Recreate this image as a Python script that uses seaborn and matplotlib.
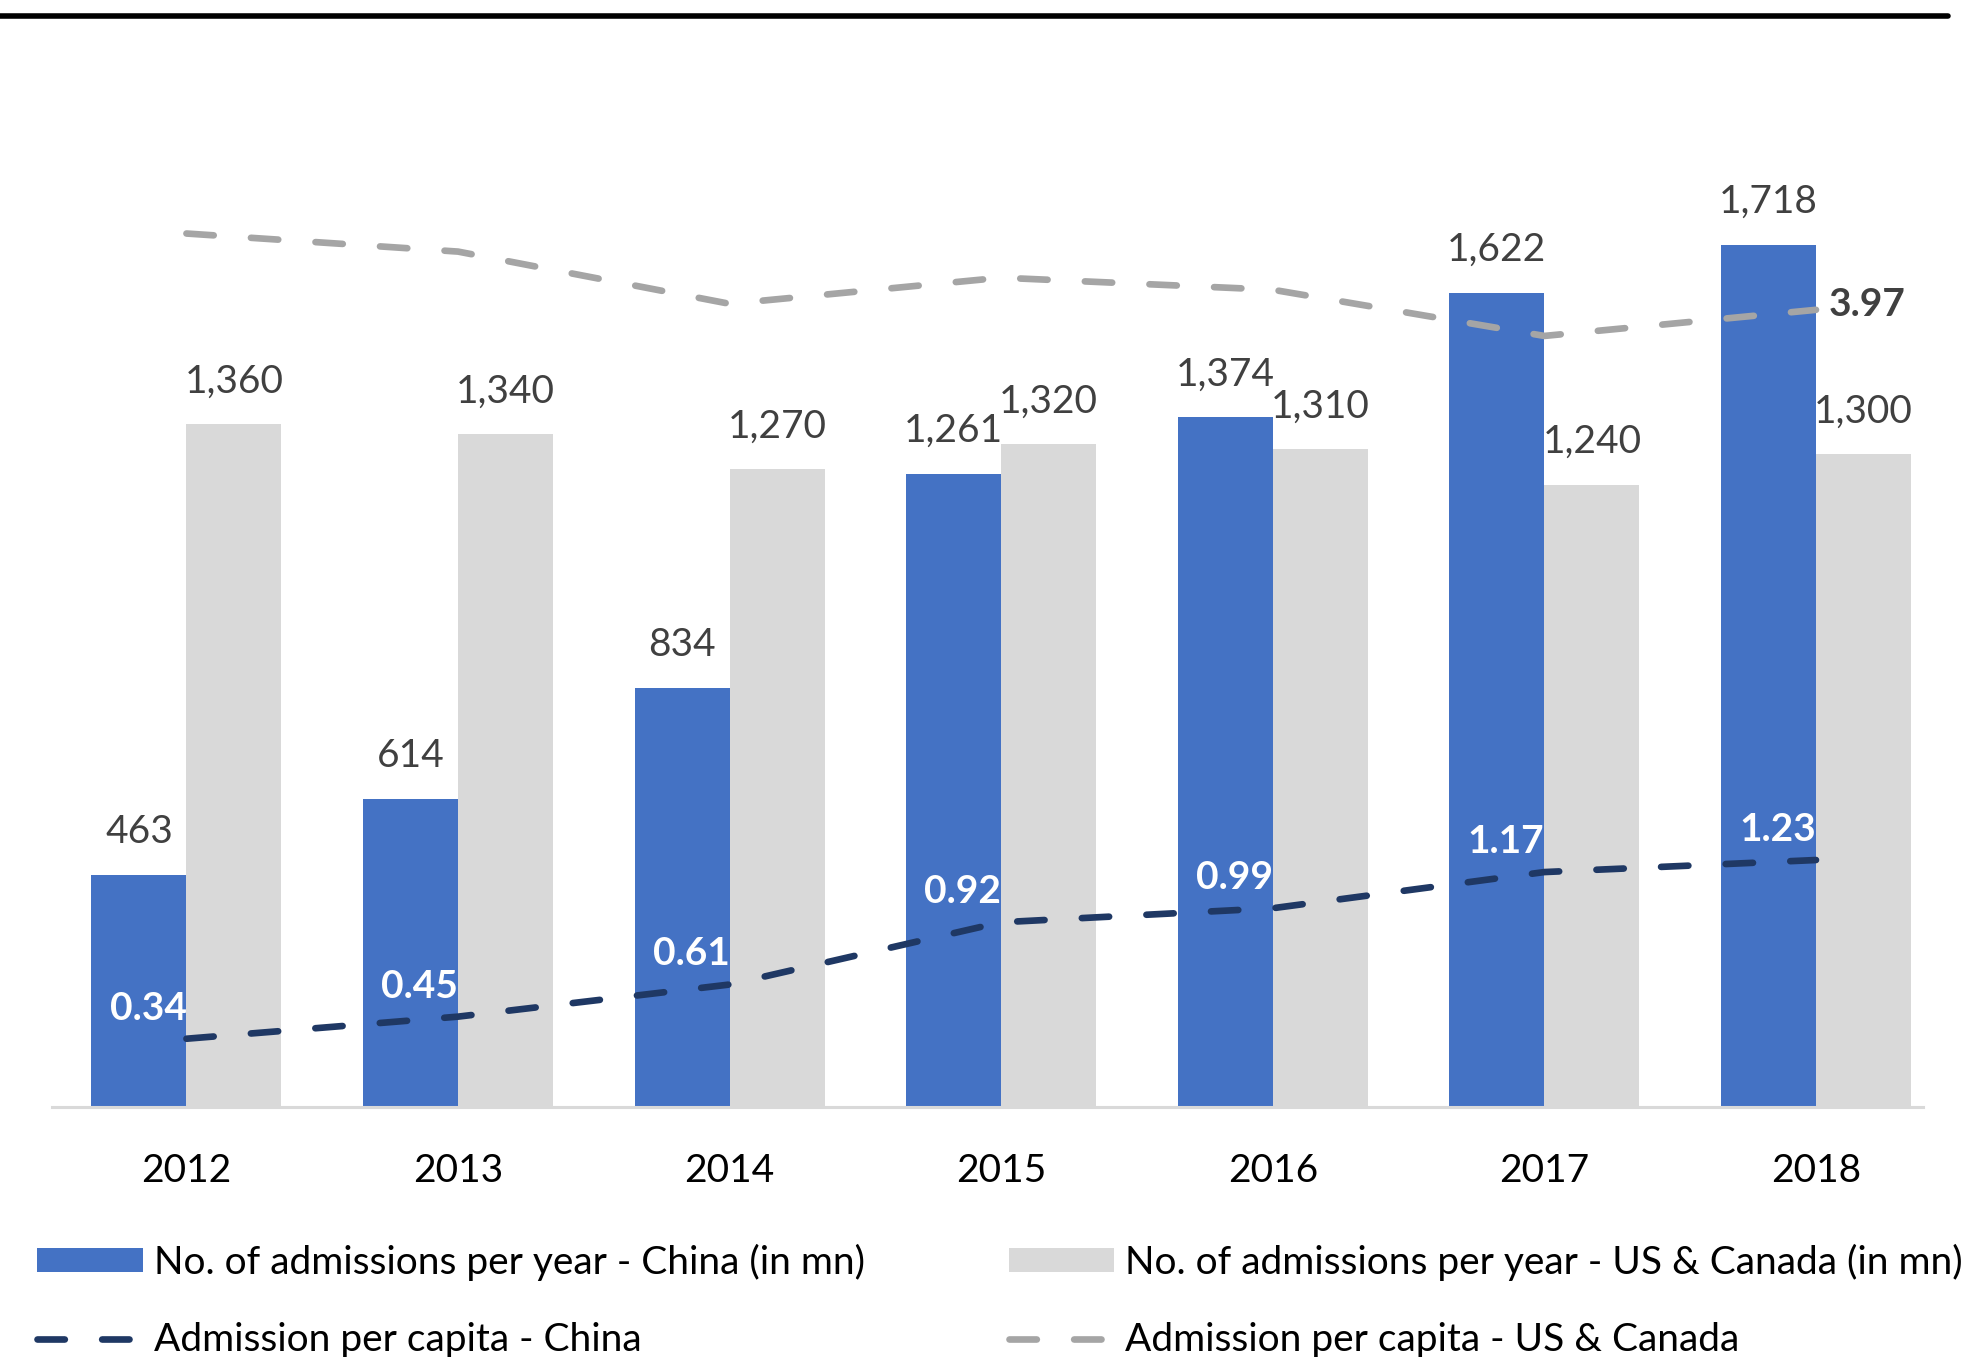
import numpy as np
import pandas as pd
import matplotlib
matplotlib.use("Agg")
import matplotlib.pyplot as plt
from matplotlib.lines import Line2D
from matplotlib.patches import Patch
import seaborn as sns

# ---- data -------------------------------------------------------------
years = ["2012", "2013", "2014", "2015", "2016", "2017", "2018"]
admissions_china = [463, 614, 834, 1261, 1374, 1622, 1718]
admissions_us_canada = [1360, 1340, 1270, 1320, 1310, 1240, 1300]
per_capita_china = [0.34, 0.45, 0.61, 0.92, 0.99, 1.17, 1.23]
per_capita_us_canada = [4.35, 4.26, 4.00, 4.13, 4.07, 3.84, 3.97]

label_china_bar = "No. of admissions per year - China (in mn)"
label_us_bar = "No. of admissions per year - US & Canada (in mn)"
label_china_line = "Admission per capita - China"
label_us_line = "Admission per capita - US & Canada"

# ---- style ------------------------------------------------------------
sns.set_style("white")
plt.rcParams["font.family"] = ["Lato", "DejaVu Sans"]

BLUE = "#4472C4"
LIGHT = "#D9D9D9"
NAVY = "#1F3864"
GREY_LINE = "#A5A5A5"
TEXT = "#404040"

W, H = 1977, 1357
fig = plt.figure(figsize=(W / 100, H / 100), dpi=100)
ax = fig.add_axes([52 / W, 1 - 1107 / H, (1923 - 52) / W, (1107 - 103) / H])

bars = pd.DataFrame({
    "year": years * 2,
    "value": admissions_china + admissions_us_canada,
    "series": [label_china_bar] * len(years) + [label_us_bar] * len(years),
})

sns.barplot(data=bars, x="year", y="value", hue="series", order=years,
            hue_order=[label_china_bar, label_us_bar],
            palette=[BLUE, LIGHT], width=0.7, saturation=1, gap=0,
            linewidth=0, ax=ax, legend=False)

ax.set_ylim(0, 2000)
ax.set_xlim(-0.495, 6.394)
ax.set_xlabel("")
ax.set_ylabel("")
ax.set_yticks([])
for s in ["top", "right", "left"]:
    ax.spines[s].set_visible(False)
ax.spines["bottom"].set_color(LIGHT)
ax.spines["bottom"].set_linewidth(2.2)
ax.tick_params(axis="x", length=0, pad=33, labelsize=28, labelcolor="black")

# value labels above each bar
for container in ax.containers:
    ax.bar_label(container, labels=[f"{v:,.0f}" for v in container.datavalues],
                 padding=18, fontsize=28, color=TEXT)

# ---- per-capita lines on a secondary axis ------------------------------
ax2 = ax.twinx()
ax2.set_ylim(0, 5)
ax2.set_yticks([])
for s in ["top", "right", "left", "bottom"]:
    ax2.spines[s].set_visible(False)

xpos = np.arange(len(years))
dash = (0, (4.1, 5.6))
lines = pd.DataFrame({"x": xpos, "china": per_capita_china,
                      "us": per_capita_us_canada})
sns.lineplot(data=lines, x="x", y="us", ax=ax2, color=GREY_LINE,
             linewidth=4.8, linestyle=dash, solid_capstyle="round",
             dash_capstyle="round")
sns.lineplot(data=lines, x="x", y="china", ax=ax2, color=NAVY,
             linewidth=4.8, linestyle=dash, solid_capstyle="round",
             dash_capstyle="round")
ax2.set_xlabel("")
ax2.set_ylabel("")
ax2.set_xlim(ax.get_xlim())

for x, v in zip(xpos, per_capita_china):
    ax2.annotate(f"{v:.2f}", (x, v), xytext=(0, 22), textcoords="offset points",
                 ha="right", va="center", fontsize=28, fontweight="bold",
                 color="white")

ax2.annotate(f"{per_capita_us_canada[-1]:.2f}", (xpos[-1], per_capita_us_canada[-1]),
             xytext=(9, 4), textcoords="offset points", ha="left", va="center",
             fontsize=28, fontweight="bold", color=TEXT)

# ---- heading rule -----------------------------------------------------
fig.add_artist(Line2D([0, 1948 / W], [1 - 15.5 / H] * 2, color="black",
                      linewidth=4, transform=fig.transFigure))

# ---- legend -----------------------------------------------------------
handles = [
    Patch(facecolor=BLUE, edgecolor="none"),
    Line2D([], [], color=NAVY, linewidth=4.8, linestyle=dash,
           dash_capstyle="round"),
    Patch(facecolor=LIGHT, edgecolor="none"),
    Line2D([], [], color=GREY_LINE, linewidth=4.8, linestyle=dash,
           dash_capstyle="round"),
]
labels = [label_china_bar, label_china_line, label_us_bar, label_us_line]
fig.legend(handles, labels, ncol=2, loc="upper left",
           bbox_to_anchor=(37 / W, 1 - 1244 / H), frameon=False,
           fontsize=28, handlelength=2.72, handleheight=0.57,
           handletextpad=0.28, columnspacing=3.7, labelspacing=1.06,
           borderpad=0, borderaxespad=0, labelcolor="black")

fig.savefig("out.png", dpi=100)
